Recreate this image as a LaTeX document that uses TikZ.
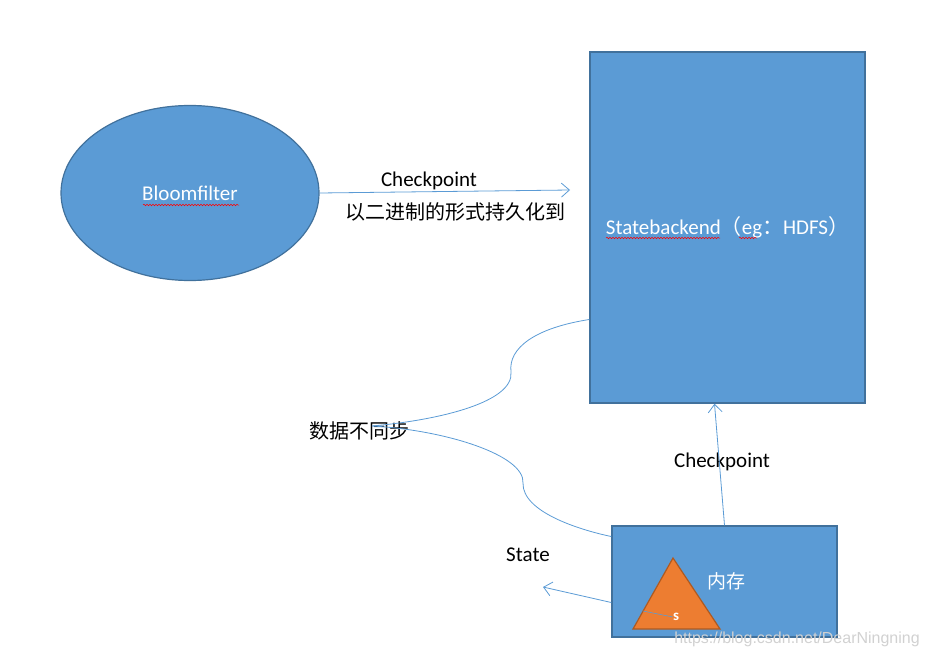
\documentclass[tikz,border=0pt]{standalone}
\usepackage{fontspec}
\setmainfont{Carlito}
\newfontfamily\cjk{Noto Sans CJK SC}
\newfontfamily\markfont{Liberation Sans}
\usetikzlibrary{calc, arrows.meta, shapes.geometric, decorations.pathmorphing}
\definecolor{BoxBlue}{HTML}{5B9BD5}
\definecolor{BoxEdge}{HTML}{41719C}
\definecolor{Tangerine}{HTML}{ED7D31}
\definecolor{TangerineEdge}{HTML}{AE5A21}
\definecolor{LinkBlue}{HTML}{5B9BD5}

\begin{document}
\begin{tikzpicture}[x=1pt, y=-1pt,
    link/.style={draw=LinkBlue, line width=0.8pt},
    linkarrow/.style={link, -{Straight Barb[length=8pt, width=14pt, line width=0.8pt]}},
    spell/.style={draw=red, line width=0.5pt, decorate, decoration={snake, amplitude=0.8pt, segment length=3pt}}]
            \useasboundingbox (0,0) rectangle (928,658);
            % shapes
            \node[ellipse, fill=BoxBlue, draw=BoxEdge, line width=1.2pt, minimum width=258pt, minimum height=175pt,
                  text=white, font=\fontsize{21}{23}\selectfont] (bloom) at (190,193) {Bloomfilter};
            \node[rectangle, fill=BoxBlue, draw=BoxEdge, line width=1.5pt, minimum width=275pt, minimum height=351pt,
                  inner sep=0pt, text=white, font=\fontsize{21}{23}\selectfont] (backend) at (727.5,227.5)
                  {Statebackend{\cjk （}eg{\cjk ：}HDFS{\cjk ）}};
            \node[rectangle, fill=BoxBlue, draw=BoxEdge, line width=1.5pt, minimum width=225pt, minimum height=111pt,
                  inner sep=0pt, text=white, font=\cjk\fontsize{19}{21}\selectfont] (memory) at (724.5,581.5) {\hspace{3pt}内存};
            \filldraw[fill=Tangerine, draw=TangerineEdge, line width=1.2pt] (673,558) -- (720,629) -- (633,629) -- cycle;
            \node[text=white, font=\bfseries\fontsize{15}{16}\selectfont, inner sep=0pt] (s) at (676,617) {s};
            \coordinate (sfoot) at (643,611);
            \draw[link, line width=0.6pt] (sfoot) -- (s.west);
            % spell check marks
            \draw[spell] (143,205) -- (239,205);
            \draw[spell] (606,238) -- (720,238);
            \draw[spell] (739,238) -- (757,238);
            % labels
            \node[font=\fontsize{21}{23}\selectfont] (ckTop) at (429,181) {Checkpoint};
            \node[font=\cjk\fontsize{20}{22}\selectfont] (persist) at (455,212) {以二进制的形式持久化到};
            \node[font=\cjk\fontsize{20}{22}\selectfont] (nosync) at (359,431) {数据不同步};
            \node[font=\fontsize{21}{23}\selectfont] (ckLow) at (722,462) {Checkpoint};
            \node[font=\fontsize{21}{23}\selectfont] (stateLbl) at (528,555) {State};
            \node[text=black!18, font=\markfont\fontsize{16}{18}\selectfont] (mark) at (797,639) {https://blog.csdn.net/DearNingning};
            % connectors
            \coordinate (topEnd) at (570,190);
            \coordinate (stateEnd) at (543,587);
            \coordinate (syncHook) at (372,426);
            \draw[linkarrow] (bloom.east) -- (topEnd);
            \draw[linkarrow] (memory.north) -- ([xshift=-13pt]backend.south);
            \draw[linkarrow] ([yshift=-21pt]memory.west) -- (stateEnd);
            \draw[link] ([yshift=-92pt]backend.west) .. controls (535,328) and (508,348) .. (511,372)
                        .. controls (514,402) and (440,420) .. (syncHook);
            \draw[link] (syncHook) .. controls (445,430) and (525,455) .. (523,483)
                        .. controls (522,512) and (580,530) .. ([yshift=45pt]memory.west);
        \end{tikzpicture}
\end{document}
